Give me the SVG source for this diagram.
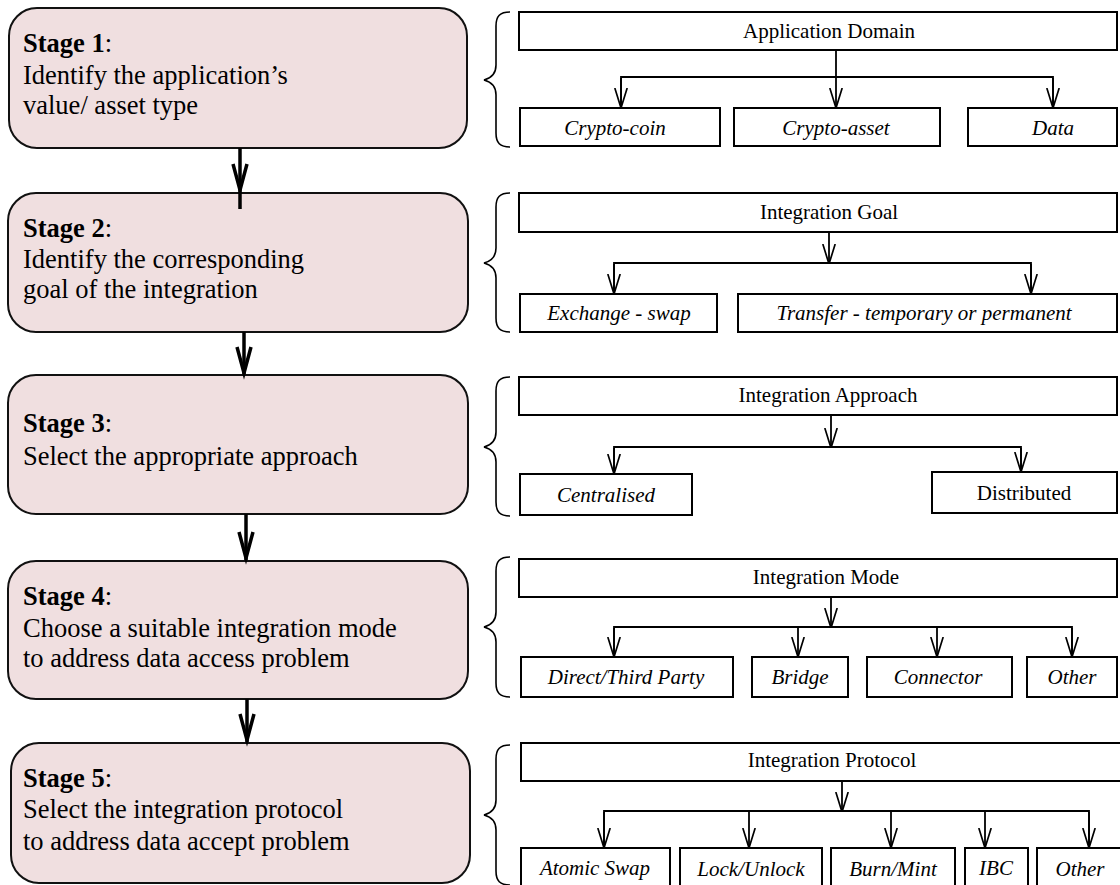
<svg xmlns="http://www.w3.org/2000/svg" width="1120" height="885" viewBox="0 0 1120 885">
<style>
.stage{fill:#f0dfe0;stroke:#111;stroke-width:2}
.st{font-family:"Liberation Serif","Times New Roman",serif;font-size:26.5px;fill:#000}
.b{font-weight:bold}
.box{fill:#fff;stroke:#000;stroke-width:2}
.t{font-family:"Liberation Serif","Times New Roman",serif;font-size:21px;fill:#000;text-anchor:middle}
.i{font-style:italic}
.ln{fill:none;stroke:#000;stroke-width:1.8}
.thick{fill:none;stroke:#000;stroke-width:3.5}
.brace{fill:none;stroke:#000;stroke-width:1.6}
</style>
<defs>
<marker id="v" viewBox="0 0 20 14" refX="20" refY="7" markerWidth="20" markerHeight="14" markerUnits="userSpaceOnUse" orient="auto">
<path d="M0,0.8 L20,7 L0,13.2" fill="none" stroke="#000" stroke-width="1.7"/>
</marker>
</defs>

<g id="stage1"><rect class="stage" x="9" y="8" width="458" height="140" rx="28"/>
<text class="st" x="23" y="52"><tspan class="b">Stage 1</tspan>:</text>
<text class="st" x="23" y="84">Identify the application’s</text>
<text class="st" x="23" y="114">value/ asset type</text></g>
<g id="stage2"><rect class="stage" x="8" y="193" width="460" height="139" rx="28"/>
<text class="st" x="23" y="237"><tspan class="b">Stage 2</tspan>:</text>
<text class="st" x="23" y="268">Identify the corresponding</text>
<text class="st" x="23" y="298">goal of the integration</text></g>
<g id="stage3"><rect class="stage" x="8" y="375" width="460" height="139" rx="28"/>
<text class="st" x="23" y="432"><tspan class="b">Stage 3</tspan>:</text>
<text class="st" x="23" y="465">Select the appropriate approach</text></g>
<g id="stage4"><rect class="stage" x="8" y="561" width="460" height="138" rx="28"/>
<text class="st" x="23" y="605"><tspan class="b">Stage 4</tspan>:</text>
<text class="st" x="23" y="637">Choose a suitable integration mode</text>
<text class="st" x="23" y="667">to address data access problem</text></g>
<g id="stage5"><rect class="stage" x="11" y="743" width="459" height="140" rx="28"/>
<text class="st" x="23" y="787"><tspan class="b">Stage 5</tspan>:</text>
<text class="st" x="23" y="818">Select the integration protocol</text>
<text class="st" x="23" y="850">to address data accept problem</text></g>

<g id="braces">
<path class="brace" d="M510,12 C500,12 496,16 496,26 L496,65 C496,73 492,78 484,80 C492,82 496,87 496,95 L496,133 C496,143 500,147 510,147"/>
<path class="brace" d="M510,193 C500,193 496,197 496,207 L496,248 C496,256 492,261 484,263 C492,265 496,270 496,278 L496,318 C496,328 500,332 510,332"/>
<path class="brace" d="M510,377 C500,377 496,381 496,391 L496,432 C496,440 492,445 484,447 C492,449 496,454 496,462 L496,502 C496,512 500,516 510,516"/>
<path class="brace" d="M510,557 C500,557 496,561 496,571 L496,612 C496,620 492,625 484,627 C492,629 496,634 496,642 L496,683 C496,693 500,697 510,697"/>
<path class="brace" d="M510,745 C500,745 496,749 496,759 L496,800 C496,808 492,813 484,815 C492,817 496,822 496,830 L496,871 C496,881 500,885 510,885"/>
</g>

<g id="domain"><rect class="box" x="519" y="12" width="598" height="38"/><text class="t" x="829" y="38">Application Domain</text></g>
<g id="crypto-coin"><rect class="box" x="520" y="108" width="200" height="38"/><text class="t i" x="615" y="135">Crypto-coin</text></g>
<g id="crypto-asset"><rect class="box" x="734" y="108" width="206" height="38"/><text class="t i" x="836" y="135">Crypto-asset</text></g>
<g id="data"><rect class="box" x="968" y="108" width="149" height="38"/><text class="t i" x="1053" y="135">Data</text></g>

<g id="goal"><rect class="box" x="519" y="193" width="598" height="39"/><text class="t" x="829" y="219">Integration Goal</text></g>
<g id="exchange"><rect class="box" x="520" y="294" width="197" height="38"/><text class="t i" x="619" y="320">Exchange - swap</text></g>
<g id="transfer"><rect class="box" x="738" y="294" width="379" height="38"/><text class="t i" x="924" y="320">Transfer - temporary or permanent</text></g>

<g id="approach"><rect class="box" x="519" y="377" width="598" height="38"/><text class="t" x="828" y="402">Integration Approach</text></g>
<g id="centralised"><rect class="box" x="520" y="474" width="172" height="41"/><text class="t i" x="606" y="502">Centralised</text></g>
<g id="distributed"><rect class="box" x="932" y="472" width="185" height="41"/><text class="t" x="1024" y="500">Distributed</text></g>

<g id="mode"><rect class="box" x="519" y="559" width="598" height="38"/><text class="t" x="826" y="584">Integration Mode</text></g>
<g id="direct"><rect class="box" x="521" y="657" width="212" height="40"/><text class="t i" x="626" y="684">Direct/Third Party</text></g>
<g id="bridge"><rect class="box" x="752" y="657" width="96" height="40"/><text class="t i" x="800" y="684">Bridge</text></g>
<g id="connector"><rect class="box" x="867" y="657" width="145" height="40"/><text class="t i" x="938" y="684">Connector</text></g>
<g id="other-mode"><rect class="box" x="1027" y="657" width="90" height="40"/><text class="t i" x="1072" y="684">Other</text></g>

<g id="protocol"><rect class="box" x="521" y="743" width="605" height="38"/><text class="t" x="832" y="767">Integration Protocol</text></g>
<g id="atomic"><rect class="box" x="521" y="848" width="149" height="45"/><text class="t i" x="595" y="875">Atomic Swap</text></g>
<g id="lock"><rect class="box" x="680" y="848" width="142" height="45"/><text class="t i" x="751" y="876">Lock/Unlock</text></g>
<g id="burn"><rect class="box" x="831" y="848" width="124" height="45"/><text class="t i" x="893" y="876">Burn/Mint</text></g>
<g id="ibc"><rect class="box" x="965" y="848" width="63" height="45"/><text class="t i" x="996" y="875">IBC</text></g>
<g id="other-protocol"><rect class="box" x="1037" y="848" width="90" height="45"/><text class="t i" x="1080" y="876">Other</text></g>

<g id="connectors">
<line class="thick" x1="240" y1="148" x2="240" y2="209"/><polyline class="thick" points="233,164 240,190 247,164"/>
<line class="thick" x1="244" y1="332" x2="244" y2="374"/><polyline class="thick" points="237,347 244,373 251,347"/>
<line class="thick" x1="246" y1="514" x2="246" y2="560"/><polyline class="thick" points="239,532 246,558 253,532"/>
<line class="thick" x1="247" y1="699" x2="247" y2="742"/><polyline class="thick" points="240,714 247,740 254,714"/>

<line class="ln" x1="836" y1="50" x2="836" y2="108" marker-end="url(#v)"/>
<polyline class="ln" points="621,108 621,77 1053,77 1053,108"/>
<line class="ln" x1="621" y1="78" x2="621" y2="108" marker-end="url(#v)"/>
<line class="ln" x1="1053" y1="78" x2="1053" y2="108" marker-end="url(#v)"/>

<line class="ln" x1="829" y1="232" x2="829" y2="264" marker-end="url(#v)"/>
<polyline class="ln" points="614,294 614,263 1031,263 1031,294"/>
<line class="ln" x1="614" y1="264" x2="614" y2="294" marker-end="url(#v)"/>
<line class="ln" x1="1031" y1="264" x2="1031" y2="294" marker-end="url(#v)"/>

<line class="ln" x1="831" y1="415" x2="831" y2="448" marker-end="url(#v)"/>
<polyline class="ln" points="614,474 614,447 1021,447 1021,472"/>
<line class="ln" x1="614" y1="448" x2="614" y2="474" marker-end="url(#v)"/>
<line class="ln" x1="1021" y1="448" x2="1021" y2="472" marker-end="url(#v)"/>

<line class="ln" x1="831" y1="597" x2="831" y2="628" marker-end="url(#v)"/>
<polyline class="ln" points="614,657 614,627 1072,627 1072,657"/>
<line class="ln" x1="614" y1="628" x2="614" y2="657" marker-end="url(#v)"/>
<line class="ln" x1="798" y1="627" x2="798" y2="657" marker-end="url(#v)"/>
<line class="ln" x1="937" y1="627" x2="937" y2="657" marker-end="url(#v)"/>
<line class="ln" x1="1072" y1="628" x2="1072" y2="657" marker-end="url(#v)"/>

<line class="ln" x1="842" y1="781" x2="842" y2="812" marker-end="url(#v)"/>
<polyline class="ln" points="604,848 604,811 1089,811 1089,848"/>
<line class="ln" x1="604" y1="812" x2="604" y2="848" marker-end="url(#v)"/>
<line class="ln" x1="749" y1="811" x2="749" y2="848" marker-end="url(#v)"/>
<line class="ln" x1="891" y1="811" x2="891" y2="848" marker-end="url(#v)"/>
<line class="ln" x1="985" y1="811" x2="985" y2="848" marker-end="url(#v)"/>
<line class="ln" x1="1089" y1="812" x2="1089" y2="848" marker-end="url(#v)"/>
</g>
</svg>
